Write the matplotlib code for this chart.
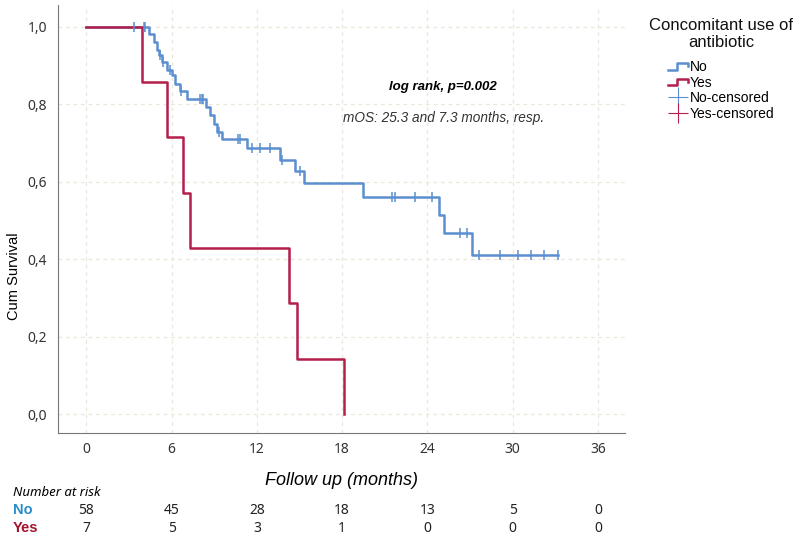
import numpy as np
import matplotlib.pyplot as plt
from matplotlib.lines import Line2D
from matplotlib.legend_handler import HandlerBase
from matplotlib.transforms import blended_transform_factory

# step curves (time in months, survival after the step)
no_t = [0, 4.42, 4.75, 4.94, 5.10, 5.30, 5.69, 6.00, 6.23, 6.58, 7.05, 8.39, 8.69,
        9.01, 9.17, 9.52, 11.28, 13.63, 14.69, 15.34, 19.45, 24.80, 25.19, 27.13, 33.22]
no_s = [1.0, 0.982, 0.961, 0.940, 0.927, 0.910, 0.888, 0.875, 0.853, 0.833, 0.813,
        0.793, 0.772, 0.750, 0.729, 0.710, 0.686, 0.657, 0.628, 0.596, 0.561, 0.515,
        0.468, 0.410, 0.410]
no_cens = [3.34, 4.05, 4.11, 5.17, 5.36, 5.88, 6.63, 7.99, 8.11, 8.22, 9.36, 10.70,
           10.81, 11.63, 12.21, 12.93, 13.74, 15.04, 21.53, 21.68, 23.13, 24.31,
           26.30, 26.77, 27.64, 29.12, 30.37, 31.28, 32.22, 33.22]

yes_t = [0, 3.89, 5.69, 6.82, 7.29, 14.25, 14.85, 18.1]
yes_s = [1.0, 0.857, 0.714, 0.571, 0.429, 0.286, 0.143, 0.0]

risk_times = [0, 6, 12, 18, 24, 30, 36]
risk_no = [58, 45, 28, 18, 13, 5, 0]
risk_yes = [7, 5, 3, 1, 0, 0, 0]

c_no = '#5b8fd0'
c_yes = '#b41f4c'
txt_font = 'Liberation Sans'
num_font = 'Noto Sans'


def surv_at(t, times, surv):
    i = np.searchsorted(times, t, side='right') - 1
    return surv[i]


class StepHandler(HandlerBase):
    def create_artists(self, legend, orig, xd, yd, w, h, fs, trans):
        xs = [xd, xd + w * 0.45, xd + w * 0.45, xd + w, xd + w]
        ys = [yd + h * 0.15, yd + h * 0.15, yd + h * 0.8, yd + h * 0.8, yd + h * 0.5]
        ln = Line2D(xs, ys, color=orig.get_color(), lw=1.8, transform=trans)
        return [ln]


fig = plt.figure(figsize=(8, 5.38), dpi=100)
ax = fig.add_axes([58 / 800, 1 - 433 / 538, 567 / 800, 428 / 538])

ax.step(no_t, no_s, where='post', color=c_no, lw=1.8)
ax.step(yes_t, yes_s, where='post', color=c_yes, lw=1.8)
ax.plot(no_cens, [surv_at(t, no_t, no_s) for t in no_cens], ls='none',
        marker='|', ms=6.5, mew=1.1, color=c_no)

ax.set_xlim(-2.0, 37.9)
ax.set_ylim(-0.049, 1.056)
ax.set_xticks(risk_times)
ax.set_yticks([0, 0.2, 0.4, 0.6, 0.8, 1.0])
ax.set_yticklabels(['0,0', '0,2', '0,4', '0,6', '0,8', '1,0'])
ax.tick_params(length=0, labelsize=10, colors='#333333')
ax.tick_params(axis='x', pad=6.5)
ax.tick_params(axis='y', pad=8)
for lab in ax.get_xticklabels() + ax.get_yticklabels():
    lab.set_family(num_font)
ax.grid(True, ls=(0, (3, 3)), color='#ebe7da', lw=0.9)
ax.set_axisbelow(True)
for s in ['top', 'right']:
    ax.spines[s].set_visible(False)
for s in ['left', 'bottom']:
    ax.spines[s].set_color('#777777')

ax.set_ylabel('Cum Survival', family=txt_font, fontsize=10.5)
ax.yaxis.set_label_coords(-0.066, 0.367)
ax.set_xlabel('Follow up (months)', family=txt_font, fontsize=13, style='italic',
              labelpad=11)

ax.text(25.1, 0.845, 'log rank, p=0.002', family=txt_font, fontsize=9.5,
        style='italic', weight='bold', ha='center', va='center')
ax.text(25.1, 0.765, 'mOS: 25.3 and 7.3 months, resp.', family=txt_font,
        fontsize=9.8, style='italic', color='#333333', ha='center', va='center')

fig.text(721 / 800, 1 - 34 / 538, 'Concomitant use of\nantibiotic', family=txt_font,
         fontsize=12, ha='center', va='center', linespacing=1.1, color='#111111')
handles = [Line2D([], [], color=c_no), Line2D([], [], color=c_yes),
           Line2D([], [], color=c_no, marker='+', ms=14, lw=0, mew=0.8),
           Line2D([], [], color=c_yes, marker='+', ms=14, lw=0, mew=0.8)]
labels = ['No', 'Yes', 'No-censored', 'Yes-censored']
leg = fig.legend(handles, labels, loc='upper left',
                 bbox_to_anchor=(668 / 800, 1 - 60 / 538),
                 frameon=False, borderpad=0, borderaxespad=0,
                 handler_map={handles[0]: StepHandler(), handles[1]: StepHandler()},
                 prop={'family': txt_font, 'size': 10}, handlelength=1.45,
                 handletextpad=0.12, labelspacing=0.12)

tr = blended_transform_factory(ax.transData, fig.transFigure)
fig.text(13 / 800, 1 - 492 / 538, 'Number at risk', family=num_font, fontsize=9.5,
         style='italic', va='center')
fig.text(13 / 800, 1 - 510 / 538, 'No', family=txt_font, fontsize=10.5, weight='bold',
         color='#2a8ccb', va='center')
fig.text(13 / 800, 1 - 528 / 538, 'Yes', family=txt_font, fontsize=10.5, weight='bold',
         color='#a3132d', va='center')
for t, a, b in zip(risk_times, risk_no, risk_yes):
    fig.text(t, 1 - 510 / 538, str(a), transform=tr, family=num_font, fontsize=10,
             ha='center', va='center', color='#222222')
    fig.text(t, 1 - 528 / 538, str(b), transform=tr, family=num_font, fontsize=10,
             ha='center', va='center', color='#222222')

fig.savefig('out.png', dpi=100)
